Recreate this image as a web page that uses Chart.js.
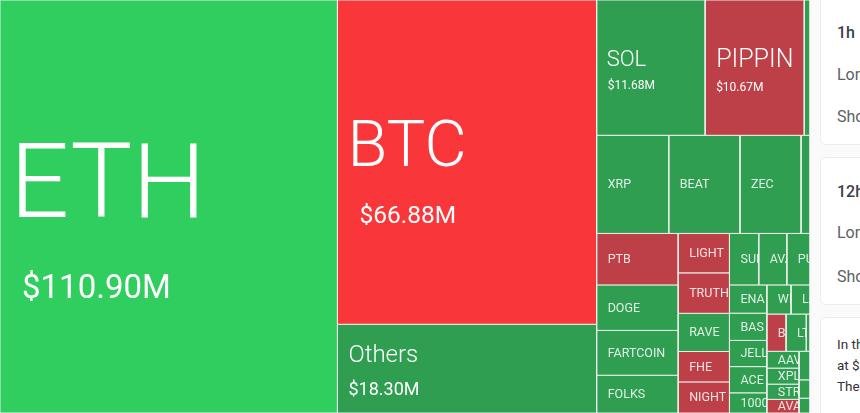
<!DOCTYPE html>
<html>
<head>
<meta charset="utf-8">
<title>Liquidation heatmap</title>
<script src="https://cdn.jsdelivr.net/npm/chart.js@4/dist/chart.umd.min.js"></script>
<style>
  html, body { margin: 0; padding: 0; width: 860px; height: 413px; overflow: hidden; background: #fafafa; font-family: Roboto, sans-serif; }
  .map { position: absolute; left: 0; top: 0; width: 810px; height: 413px; background: #fff; }
  .card { position: absolute; left: 820px; width: 300px; background: #fff; border: 1px solid #ececec; border-radius: 6px; box-sizing: border-box; color: #5c6068; white-space: nowrap; }
  .card div { position: absolute; left: 16px; font-size: 16px; line-height: 20px; }
  .card .head { font-weight: 500; color: #3c4048; }
  .card .note { font-size: 13.5px; color: #333; }
</style>
</head>
<body>
<div class="map"><canvas id="map"></canvas></div>
<div class="card" style="top:-8px;height:153px">
  <div class="head" style="top:30px">1h</div>
  <div style="top:72px">Long</div>
  <div style="top:114px">Short</div>
</div>
<div class="card" style="top:157px;height:148px">
  <div class="head" style="top:24px">12h</div>
  <div style="top:65px">Long</div>
  <div style="top:109px">Short</div>
</div>
<div class="card" style="top:317px;height:110px">
  <div class="note" style="top:16px">In the</div>
  <div class="note" style="top:37px">at $</div>
  <div class="note" style="top:58px">The</div>
</div>
<script>
const names = ["ETH", "BTC", "Others", "SOL", "PIPPIN", "", "XRP", "BEAT", "ZEC", "",
  "PTB", "DOGE", "FARTCOIN", "FOLKS", "LIGHT", "TRUTH", "RAVE", "FHE", "NIGHT",
  "SUI", "AVAX", "PUMP", "ENA", "BAS", "JELLYJELLY", "ACE", "1000PEPE",
  "WIF", "LINK", "BNB", "LTC", "", "AAVE", "XPL", "STRK", "AVAAI", "", "", ""];
const values = [110.90, 66.88, 18.30, 11.68, 10.67, 0.62, 5.63, 5.56, 4.77, 0.70,
  3.34, 2.95, 2.91, 2.45, 1.61, 1.65, 1.56, 1.24, 1.27,
  1.20, 1.15, 0.95, 0.84, 0.81, 0.78, 0.78, 0.60,
  0.56, 0.44, 0.57, 0.60, 0.11, 0.43, 0.41, 0.39, 0.35, 0.25, 0.16, 0.13];
const moves = ["up+", "down+", "up", "up", "down", "up", "up", "up", "up", "up",
  "down", "up", "up", "up", "down", "down", "up", "down", "down",
  "up", "up", "up", "up", "up", "up", "up", "up",
  "up", "up", "down", "up", "up", "up", "up", "up", "down", "up", "up", "up"];
const amounts = { ETH: "$110.90M", BTC: "$66.88M", Others: "$18.30M", SOL: "$11.68M", PIPPIN: "$10.67M" };

// nesting of the treemap, as indexes into names/values: "x" splits across, "y" splits down
const nesting = ["x", 0, ["y", 1, 2], ["y",
  ["x", 3, 4, 5],
  ["x", 6, 7, 8, 9],
  ["x", ["y", 10, 11, 12, 13], ["y", 14, 15, 16, 17, 18], ["y",
    ["x", 19, 20, 21],
    ["x", ["y", 22, 23, 24, 25, 26], ["y",
      ["x", 27, 28],
      ["x", 29, 30, 31],
      ["x", ["y", 32, 33, 34, 35], ["y", 36, 37, 38]]
    ]]
  ]]
]];

const colors = { "up+": "#30ce5e", "down+": "#f9373b", up: "#2f9e51", down: "#bd4048" };
const fontFamily = "Roboto, sans-serif";

// big tiles get their own type; offsets are from the tile's top left corner
const bigLabels = {
  ETH: { size: 104, x: 10, y: 217, amountSize: 33, amountX: 22, amountY: 298 },
  BTC: { size: 65, x: 10, y: 166, amountSize: 24.5, amountX: 22, amountY: 223 },
  Others: { size: 24, x: 11, y: 38, amountSize: 18, amountX: 11, amountY: 71 },
  SOL: { size: 22, x: 10, y: 66, amountSize: 12, amountX: 11, amountY: 89 },
  PIPPIN: { size: 25, x: 11, y: 67, amountSize: 12, amountX: 11, amountY: 91 },
};

function sumOf(node) {
  if (typeof node === "number") return values[node];
  return node.slice(1).reduce((acc, child) => acc + sumOf(child), 0);
}

// walks the nesting and gives every tile a box in 0..1 chart units
function layout(node, x0, y0, x1, y1, out) {
  if (typeof node === "number") {
    out.push({ index: node, x0, y0, x1, y1 });
    return out;
  }
  const total = sumOf(node);
  let pos = node[0] === "x" ? x0 : y0;
  node.slice(1).forEach((child) => {
    const part = sumOf(child) / total;
    if (node[0] === "x") {
      const end = pos + part * (x1 - x0);
      layout(child, pos, y0, end, y1, out);
      pos = end;
    } else {
      const end = pos + part * (y1 - y0);
      layout(child, x0, pos, x1, end, out);
      pos = end;
    }
  });
  return out;
}

const tiles = layout(nesting, 0, 0, 1, 1, []);

const tileLabels = {
  id: "tileLabels",
  afterDatasetsDraw(chart) {
    const { ctx, scales } = chart;
    ctx.save();
    ctx.textBaseline = "alphabetic";
    tiles.forEach((tile) => {
      const name = names[tile.index];
      if (!name) return;
      const left = scales.x.getPixelForValue(tile.x0);
      const right = scales.x.getPixelForValue(tile.x1);
      const top = scales.y.getPixelForValue(tile.y0);
      const bottom = scales.y.getPixelForValue(tile.y1);
      ctx.save();
      ctx.beginPath();
      ctx.rect(left, top, right - left, bottom - top);
      ctx.clip();
      const big = bigLabels[name];
      if (big) {
        ctx.fillStyle = "#fff";
        ctx.font = `300 ${big.size}px ${fontFamily}`;
        ctx.fillText(name, left + big.x, top + big.y);
        ctx.font = `${big.amountSize}px ${fontFamily}`;
        ctx.fillText(amounts[name], left + big.amountX, top + big.amountY);
      } else {
        ctx.fillStyle = "rgba(255,255,255,.85)";
        ctx.font = `12.5px ${fontFamily}`;
        ctx.fillText(name, left + 11, (top + bottom) / 2 + 4);
      }
      ctx.restore();
    });
    ctx.restore();
  },
};

new Chart(document.getElementById("map"), {
  type: "scatter",
  data: {
    datasets: tiles.map((tile) => ({
      label: names[tile.index],
      data: [
        { x: tile.x0, y: tile.y0 },
        { x: tile.x1, y: tile.y0 },
        { x: tile.x1, y: tile.y1 },
        { x: tile.x0, y: tile.y1 },
        { x: tile.x0, y: tile.y0 },
      ],
      showLine: true,
      fill: "shape",
      tension: 0,
      backgroundColor: colors[moves[tile.index]],
      borderColor: "#e8efe9",
      borderWidth: 1,
      pointRadius: 0,
      pointHoverRadius: 0,
    })),
  },
  options: {
    responsive: true,
    maintainAspectRatio: false,
    animation: false,
    plugins: { legend: { display: false }, tooltip: { enabled: false } },
    scales: {
      x: { type: "linear", min: 0, max: 1, display: false },
      y: { type: "linear", min: 0, max: 1, reverse: true, display: false },
    },
  },
  plugins: [tileLabels],
});
</script>
</body>
</html>
